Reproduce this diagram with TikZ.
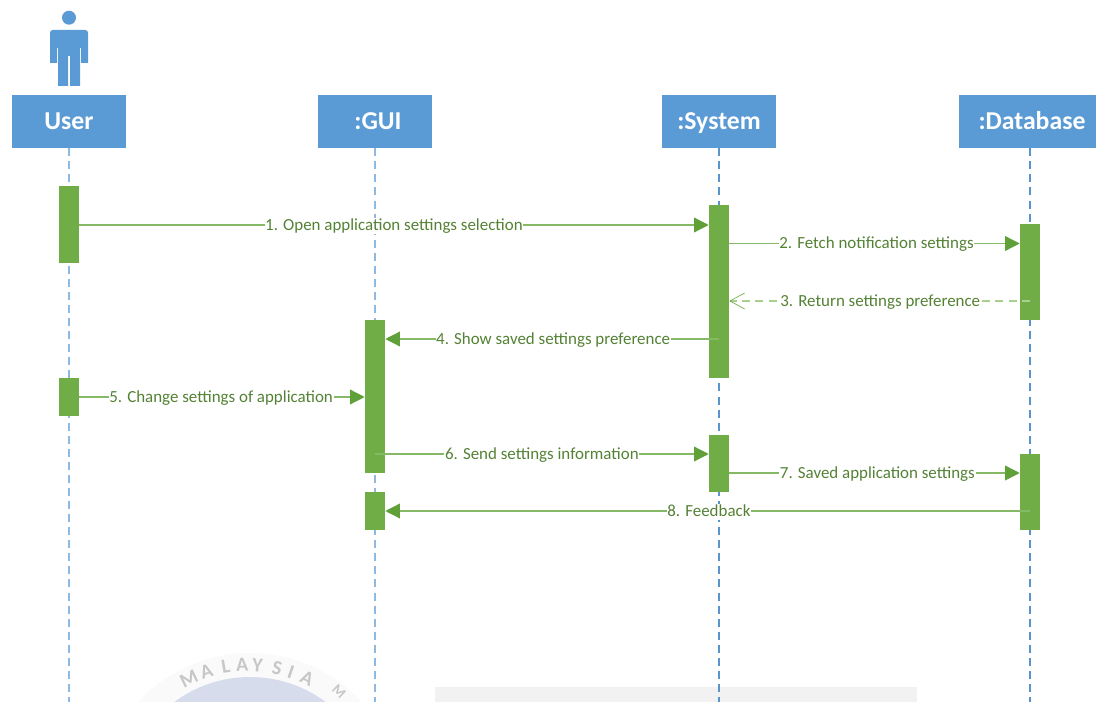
\documentclass[tikz,border=0pt]{standalone}
\usepackage{fontspec}
\setmainfont{Carlito}
\usetikzlibrary{arrows.meta,calc}
\definecolor{hdr}{HTML}{5B9BD5}
\definecolor{lifeA}{HTML}{8DB9E2}
\definecolor{lifeB}{HTML}{5B93CC}
\definecolor{actgreen}{HTML}{70AD47}
\definecolor{msgline}{HTML}{85B965}
\definecolor{msggreen}{HTML}{5FA038}
\definecolor{retgreen}{HTML}{A9D18E}
\definecolor{txtgreen}{HTML}{548235}
\tikzset{
  header/.style={fill=hdr,draw=none,minimum height=39.75pt,inner sep=0pt},
  headtext/.style={inner sep=0pt,text=white,text height=13pt,text depth=1pt,font=\fontsize{19.3}{21}\selectfont\bfseries},
  lifeline/.style={line width=0.85pt,dash pattern=on 6pt off 3.8pt},
  activation/.style={fill=actgreen,draw=none,minimum width=15pt,inner sep=0pt},
  msg/.style={line width=1pt,color=msgline,-{Triangle[length=11pt,width=11pt,color=msggreen]}},
  ret/.style={line width=1pt,color=retgreen,dash pattern=on 6pt off 4pt,-{Straight Barb[length=11pt,width=12pt,color=actgreen,line width=0.5pt]}},
  msglabel/.style={fill=white,inner xsep=0.5pt,inner ysep=0.5pt,text=txtgreen,text height=9pt,text depth=2.5pt,yshift=-0.8pt,font=\fontsize{12.7}{14}\selectfont},
  sealtext/.style={text=black!22,inner sep=0pt,font=\fontsize{15}{15}\selectfont\bfseries}
}
\begin{document}
\begin{tikzpicture}[x=0.75pt,y=-0.75pt]
\path[use as bounding box] (0,0) rectangle (1096,702);
% faint watermark of the scanned page
\begin{scope}
  \clip (0,0) rectangle (1096,702);
  \fill[black!2] (250,805) circle (152);
  \fill[color={rgb,255:red,214;green,220;blue,236}] (250,804) circle (127);
  \foreach \ch/\ang in {M/-26,A/-18,L/-9.5,A/-2.5,Y/4,S/12.5,I/18.5,A/26}{
    \node[sealtext,rotate=-\ang] at ($(248,800)+({sin(\ang)*135*0.75pt},{cos(\ang)*135*0.75pt})$) {\ch};
  }
  \node[sealtext,rotate=-44,font=\fontsize{11}{11}\selectfont\bfseries] at (339,692) {M};
  \fill[black!5] (435,687) rectangle (917,702);
\end{scope}
% headers
\node[header,minimum width=85.5pt] (user) at (69,121.5) {};
\node[header,minimum width=85.5pt] (gui) at (375,121.5) {};
\node[header,minimum width=85.5pt] (sys) at (719,121.5) {};
\node[header,minimum width=102.75pt] (db) at (1027.5,121.5) {};
\node[headtext] (usert) at (user.center) {User};
\node[headtext] (guit) at (378,121.5) {:GUI};
\node[headtext] (syst) at (sys.center) {:System};
\node[headtext] (dbt) at (1032,121.5) {:Database};
% actor
\fill[hdr] (69,17.7) circle (7);
\fill[hdr] (53,30) -- (85,30) .. controls (87,30) and (88,31) .. (88,33) -- (88,63) -- (81,63) -- (81,48) -- (80,48) -- (80,86) -- (70,86) -- (70,56) -- (68,56) -- (68,86) -- (58,86) -- (58,48) -- (57,48) -- (57,63) -- (50,63) -- (50,33) .. controls (50,31) and (51,30) .. (53,30) -- cycle;
% level and end coordinates
\coordinate (bottom) at (0,702);
\coordinate (m1) at (0,225);
\coordinate (m2) at (0,243.5);
\coordinate (m3) at (0,301);
\coordinate (m4) at (0,339);
\coordinate (m5) at (0,397);
\coordinate (m6) at (0,454);
\coordinate (m7) at (0,473);
\coordinate (m8) at (0,511);
\coordinate (lu) at (69,0);
\coordinate (lg) at (375,0);
\coordinate (ls) at (719,0);
\coordinate (ld) at (1030,0);
\draw[lifeline,lifeA] (lu |- user.south) -- (lu |- bottom);
\draw[lifeline,lifeA] (lg |- gui.south) -- (lg |- bottom);
\draw[lifeline,lifeB] (ls |- sys.south) -- (ls |- bottom);
\draw[lifeline,lifeB] (ld |- db.south) -- (ld |- bottom);
\node[activation,minimum height=57.75pt] (u1) at (69,224.5) {};
\node[activation,minimum height=28.5pt] (u2) at (69,396.5) {};
\node[activation,minimum height=114.75pt] (g1) at (375,396.5) {};
\node[activation,minimum height=28.5pt] (g2) at (375,511) {};
\node[activation,minimum height=129.75pt] (s1) at (719,291.5) {};
\node[activation,minimum height=42.75pt] (s2) at (719,463.5) {};
\node[activation,minimum height=72pt] (d1) at (1030,272) {};
\node[activation,minimum height=57pt] (d2) at (1030,492) {};
% messages
\draw[msg] (u1.east |- m1) -- node[msglabel,pos=0.5] (t1) {1. Open application settings selection} (s1.west |- m1);
\draw[msg] (s1.east |- m2) -- node[msglabel,pos=0.507] (t2) {2. Fetch notification settings} (d1.west |- m2);
\draw[ret] (d1.center |- m3) -- node[msglabel,pos=0.498] (t3) {3. Return settings preference} (s1.east |- m3);
\draw[msg] (s1.center |- m4) -- node[msglabel,pos=0.497] (t4) {4. Show saved settings preference} (g1.east |- m4);
\draw[msg] (u2.east |- m5) -- node[msglabel,pos=0.497] (t5) {5. Change settings of application} (g1.west |- m5);
\draw[msg] (g1.center |- m6) -- node[msglabel,pos=0.50] (t6) {6. Send settings information} (s2.west |- m6);
\draw[msg] (s2.east |- m7) -- node[msglabel,pos=0.51] (t7) {7. Saved application settings} (d2.west |- m7);
\draw[msg] (d2.center |- m8) -- node[msglabel,pos=0.498] (t8) {8. Feedback} (g2.east |- m8);
\end{tikzpicture}
\end{document}
